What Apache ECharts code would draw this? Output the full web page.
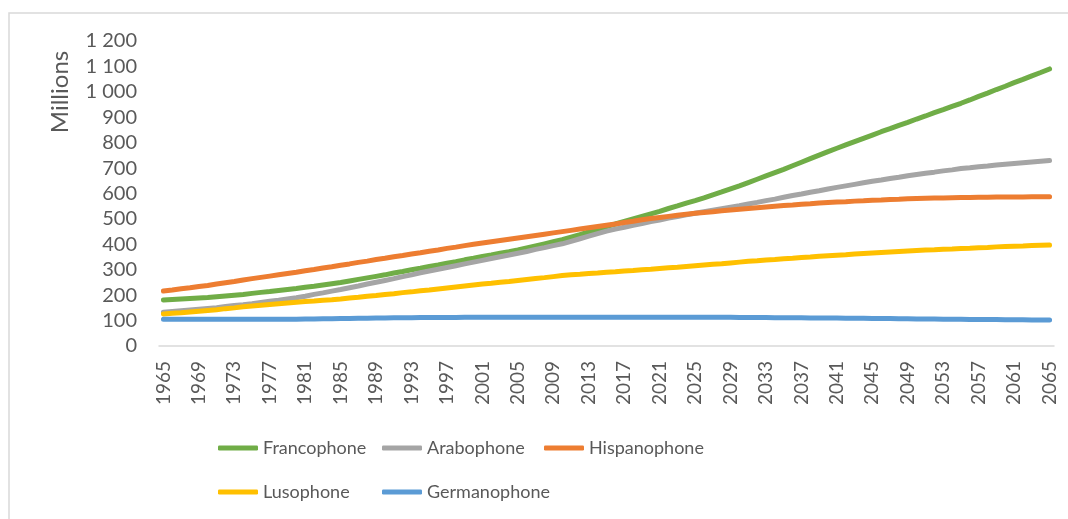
<!DOCTYPE html>
<html>
<head>
<meta charset="utf-8">
<script src="https://cdn.jsdelivr.net/npm/echarts@6/dist/echarts.min.js"></script>
<style>
  html, body { margin: 0; padding: 0; background: #fff; }
  #chart { width: 1068px; height: 519px; }
</style>
</head>
<body>
<div id="chart"></div>
<script>
var years = [];
for (var y = 1965; y <= 2065; y++) years.push(String(y));

var francophone = [181, 183, 185, 187, 189, 191, 194, 197, 200, 203,
  207, 211, 214, 218, 222, 226, 231, 235, 240, 245,
  250, 256, 262, 268, 274, 280, 287, 293, 300, 306,
  313, 319, 326, 332, 339, 345, 352, 358, 365, 371,
  378, 386, 394, 402, 410, 418, 428, 438, 449, 459,
  470, 480, 490, 500, 510, 520, 530, 541, 551, 562,
  572, 583, 595, 606, 618, 630, 643, 656, 669, 682,
  695, 709, 723, 737, 751, 765, 778, 791, 804, 817,
  830, 843, 855, 868, 880, 893, 905, 918, 930, 943,
  955, 968, 982, 995, 1009, 1022, 1036, 1049, 1063, 1076, 1090];

var arabophone = [133, 136, 139, 142, 145, 148, 151, 155, 159, 162,
  166, 171, 176, 180, 185, 190, 196, 203, 209, 216,
  222, 229, 236, 244, 251, 258, 265, 273, 280, 288,
  295, 302, 309, 316, 323, 330, 337, 344, 351, 358,
  365, 372, 380, 387, 395, 402, 412, 422, 432, 442,
  452, 460, 467, 475, 482, 490, 496, 503, 509, 516,
  522, 528, 534, 540, 546, 552, 559, 565, 572, 578,
  585, 592, 598, 605, 611, 618, 624, 630, 636, 642,
  648, 653, 659, 664, 670, 675, 680, 684, 689, 693,
  698, 701, 705, 708, 712, 715, 718, 721, 724, 727, 730];

var hispanophone = [216, 220, 225, 229, 234, 238, 244, 249, 254, 260,
  265, 270, 275, 280, 285, 290, 296, 301, 307, 312,
  318, 323, 329, 334, 340, 345, 351, 356, 362, 367,
  373, 378, 384, 389, 395, 400, 405, 410, 415, 420,
  425, 430, 435, 440, 445, 450, 455, 460, 465, 470,
  475, 480, 486, 491, 497, 502, 506, 510, 514, 518,
  522, 525, 528, 532, 535, 538, 541, 544, 547, 550,
  553, 555, 558, 560, 563, 565, 567, 568, 570, 571,
  573, 574, 576, 577, 579, 580, 581, 582, 582, 583,
  584, 584, 585, 585, 586, 586, 586, 586, 587, 587, 587];

var lusophone = [126, 129, 131, 134, 137, 140, 143, 147, 150, 154,
  157, 160, 163, 166, 169, 172, 175, 177, 180, 182,
  185, 189, 192, 196, 199, 203, 206, 210, 213, 217,
  220, 224, 228, 232, 236, 240, 244, 247, 251, 254,
  258, 262, 266, 269, 273, 277, 280, 282, 285, 287,
  290, 292, 295, 297, 300, 302, 305, 308, 310, 313,
  316, 319, 322, 324, 327, 330, 333, 335, 338, 340,
  343, 345, 348, 350, 353, 355, 357, 359, 362, 364,
  366, 368, 370, 372, 374, 376, 378, 379, 381, 382,
  384, 385, 387, 388, 390, 391, 392, 393, 395, 396, 397];

var germanophone = [105, 105, 105, 105, 105, 105, 105, 105, 105, 105,
  105, 105, 105, 105, 105, 105, 106, 106, 107, 107,
  108, 108, 109, 109, 110, 110, 111, 111, 111, 112,
  112, 112, 112, 112, 113, 113, 113, 113, 113, 113,
  113, 113, 113, 113, 113, 113, 113, 113, 113, 113,
  113, 113, 113, 113, 113, 113, 113, 113, 113, 113,
  113, 113, 113, 113, 113, 112, 112, 112, 112, 111,
  111, 111, 111, 110, 110, 110, 110, 109, 109, 109,
  108, 108, 108, 107, 107, 106, 106, 106, 105, 105,
  105, 104, 104, 104, 104, 103, 103, 103, 102, 102, 102];

var names = ['Francophone', 'Arabophone', 'Hispanophone', 'Lusophone', 'Germanophone'];
var colors = ['#70AD47', '#A5A5A5', '#ED7D31', '#FFC000', '#5B9BD5'];
var values = [francophone, arabophone, hispanophone, lusophone, germanophone];

var FONT = 'Lato';
var TXT = '#595959';

var myChart = echarts.init(document.getElementById('chart'));

// legend slots, two rows like the original
var legendPos = [[218, 439], [382, 439], [544, 439], [218, 483], [382, 483]];
var legends = names.map(function (n, i) {
    return {
        data: [n],
        left: legendPos[i][0],
        top: legendPos[i][1],
        padding: 0,
        icon: 'roundRect',
        itemWidth: 40,
        itemHeight: 5,
        itemGap: 5,
        textStyle: { fontFamily: FONT, fontSize: 18, color: TXT }
    };
});

var option = {
    animation: false,
    color: colors,
    grid: { left: 159, right: 14, top: 41, bottom: 173 },
    legend: legends,
    graphic: [
        {
            type: 'rect',
            shape: { x: 9, y: 13, width: 1200, height: 700 },
            style: { fill: null, stroke: '#D9D9D9', lineWidth: 1.5 },
            silent: true
        },
        {
            type: 'text',
            x: 60,
            y: 92,
            rotation: Math.PI / 2,
            style: {
                text: 'Millions',
                fontFamily: FONT,
                fontSize: 24,
                fill: TXT,
                textAlign: 'center',
                textVerticalAlign: 'middle'
            }
        }
    ],
    xAxis: {
        type: 'category',
        data: years,
        boundaryGap: true,
        axisLine: { lineStyle: { color: '#D9D9D9', width: 1.5 } },
        axisTick: { show: false },
        axisLabel: {
            interval: 3,
            rotate: 90,
            margin: 15,
            fontFamily: FONT,
            fontSize: 19,
            color: TXT
        },
        splitLine: { show: false }
    },
    yAxis: {
        type: 'value',
        min: 0,
        max: 1200,
        interval: 100,
        axisLine: { show: false },
        axisTick: { show: false },
        splitLine: { show: false },
        axisLabel: {
            margin: 22,
            fontFamily: FONT,
            fontSize: 20,
            color: TXT,
            formatter: function (v) {
                return String(v).replace(/\B(?=(\d{3})+(?!\d))/g, ' ');
            }
        }
    },
    series: names.map(function (n, i) {
        return {
            name: n,
            type: 'line',
            data: values[i],
            showSymbol: false,
            symbol: 'none',
            lineStyle: { width: 5, color: colors[i], cap: 'round', join: 'round' }
        };
    })
};

myChart.setOption(option);
</script>
</body>
</html>
